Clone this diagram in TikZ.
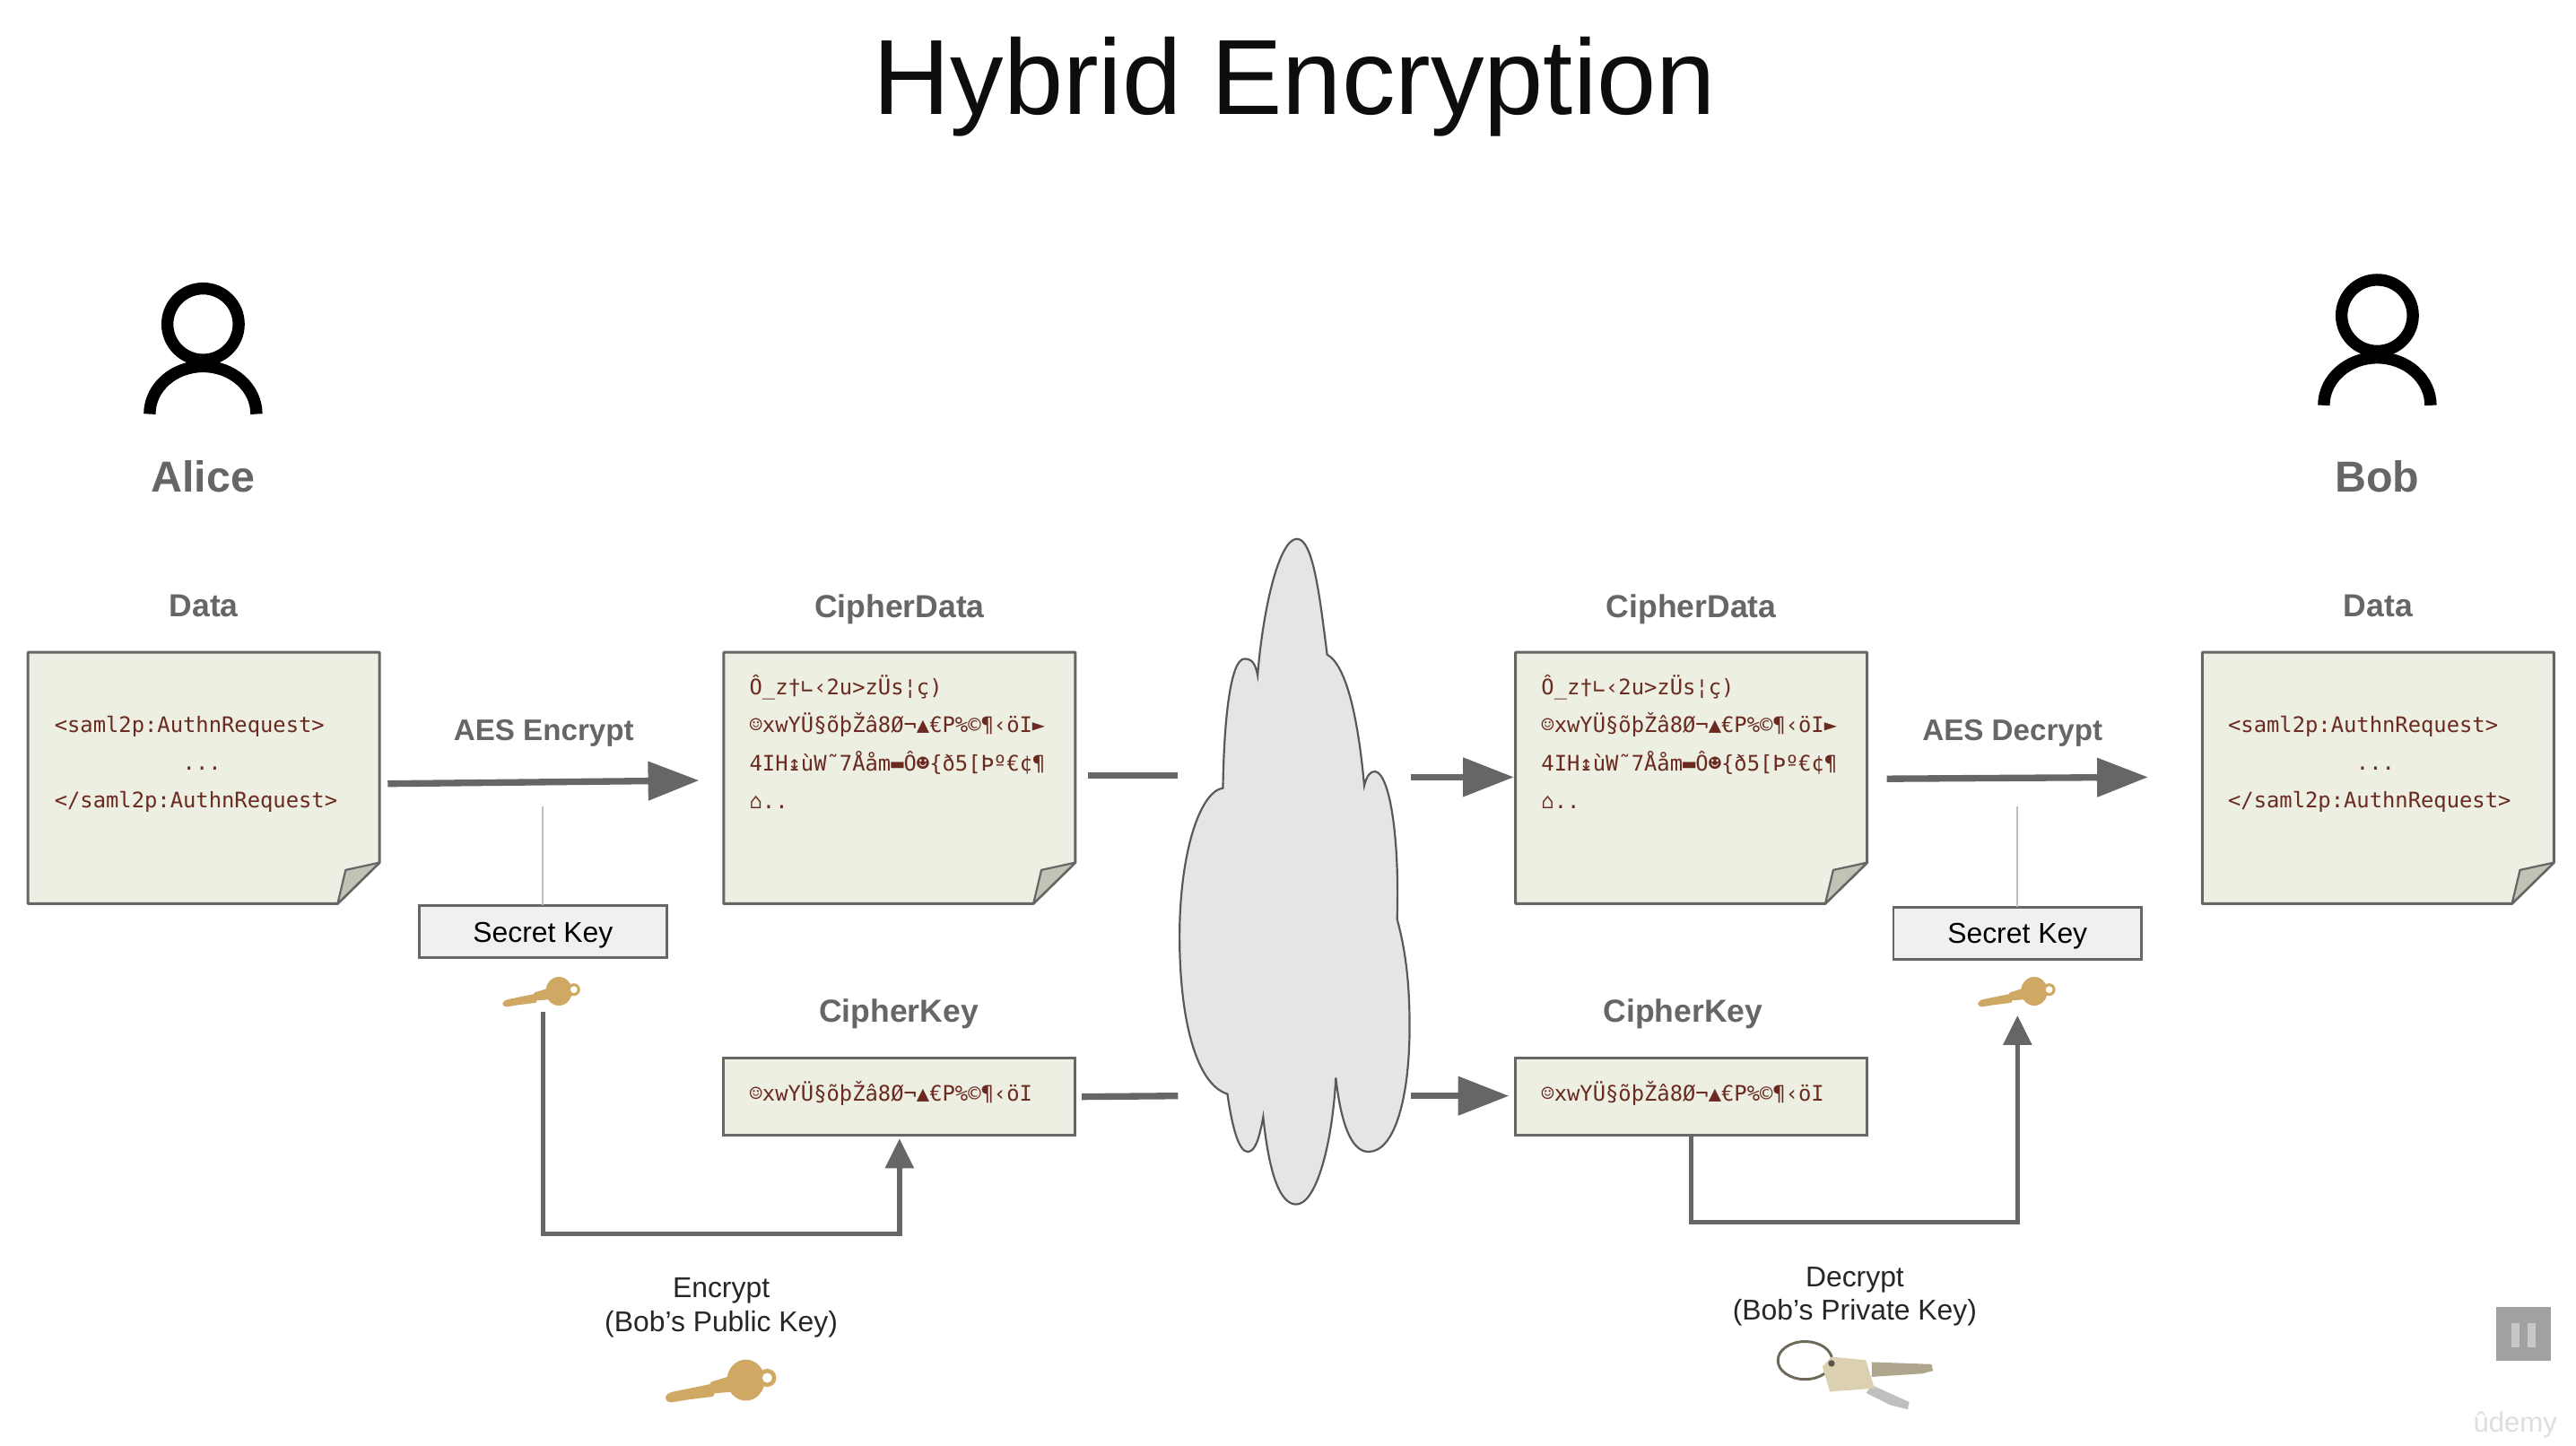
\documentclass[tikz,border=0pt]{standalone}
\usepackage{fontspec}
\setmainfont{Liberation Sans}
\newfontfamily\docfont{DejaVu Sans Mono}
\usetikzlibrary{arrows.meta}
\definecolor{doc-green}{HTML}{ECEFE2}
\definecolor{doc-fold}{HTML}{BFC4B4}
\definecolor{doc-text}{HTML}{6B2A20}
\definecolor{edge-grey}{HTML}{666666}
\definecolor{key-gold}{HTML}{CFA963}
\definecolor{key-beige}{HTML}{DBD0B0}
\tikzset{
  doc-page/.style={minimum width=214pt, minimum height=153pt, inner sep=0pt, outer sep=0pt},
  doc-edge/.style={draw=edge-grey, line width=1.6pt, fill=doc-green, line join=round},
  doc-note/.style={anchor=west, align=left, inner sep=0pt, text=doc-text, font=\docfont\fontsize{13}{23}\selectfont},
  cipher-key/.style={draw=edge-grey, line width=1.6pt, fill=doc-green, minimum width=214pt, minimum height=47pt, inner sep=0pt, outer sep=0pt},
  secret-box/.style={draw=edge-grey, line width=1.6pt, fill=black!6, minimum width=151pt, minimum height=32pt, inner sep=0pt, outer sep=0pt},
  secret-text/.style={font=\fontsize{17.4}{20}\selectfont},
  grey-head/.style={text=edge-grey, font=\bfseries\fontsize{19.4}{22}\selectfont},
  aes-head/.style={text=edge-grey, font=\bfseries\fontsize{18.1}{22}\selectfont},
  person-name/.style={text=edge-grey, font=\bfseries\fontsize{26.4}{30}\selectfont},
  key-note/.style={align=center, text=black!85, font=\fontsize{17.4}{20.5}\selectfont},
  main-arrow/.style={draw=edge-grey, line width=4pt, -{Triangle[length=31pt,width=23pt]}},
  stub-line/.style={draw=edge-grey, line width=4pt},
  key-arrow/.style={draw=edge-grey, line width=3pt, -{Triangle[length=18pt,width=17pt]}},
  hair-line/.style={draw=black!25, line width=1pt},
  gold-key/.pic={
    \fill[key-gold] (-33,9.5) .. controls (-32,7) and (-30,6.5) .. (-28,6) -- (-6,1.5) -- (-5,0) -- (8,-4) -- (9,6) -- (-3,7) -- (-4,9) -- (-20,11) -- (-29,12.5) .. controls (-32,12.5) and (-33,11) .. (-33,9.5) -- cycle;
    \fill[key-gold] (29,-2.4) circle[radius=5.5pt];
    \fill[key-gold] (16,-1) circle[x radius=11.5pt, y radius=12.5pt];
    \fill[white] (29,-2.4) circle[radius=3pt];
  },
}

\begin{document}
\begin{tikzpicture}[x=1pt, y=-1pt]
  \useasboundingbox (0,0) rectangle (1568,880);

  \node[text=black!95, font=\fontsize{65}{78}\selectfont] (title) at (788,53) {Hybrid Encryption};

  % people
  \foreach \who/\xpos/\ypos/\nm in {alice/123.6/197.3/Alice, bob/1447/192/Bob} {
    \begin{scope}[shift={(\xpos,\ypos)}]
      \draw[line width=7.3pt] (0,0) circle[radius=21.7pt];
      \draw[line width=7.3pt] (-32.5,54.7) .. controls (-32.5,38.7) and (-18,25.7) .. (0,25.7) .. controls (18,25.7) and (32.5,38.7) .. (32.5,54.7);
    \end{scope}
    \node[person-name] (\who) at (\xpos,290) {\nm};
  }

  % dog-eared pages
  \foreach \doc/\xpos/\ypos/\nm in {data-a/124/369/Data, cipher-a/547.5/371/CipherData, cipher-b/1029.5/371/CipherData, data-b/1447.5/369/Data} {
    \node[grey-head] (\doc-head) at (\xpos,\ypos) {\nm};
    \node[doc-page] (\doc) at (\xpos,473.5) {};
    \draw[doc-edge] (\doc.north west) -- (\doc.north east) -- ([yshift=25pt]\doc.south east)
      -- ([xshift=-25.5pt]\doc.south east) -- (\doc.south west) -- cycle;
    \draw[draw=edge-grey, line width=1.2pt, fill=doc-fold, line join=round] ([xshift=-25.5pt]\doc.south east)
      -- ([xshift=-20.6pt,yshift=20.5pt]\doc.south east) -- ([yshift=25pt]\doc.south east) -- cycle;
  }

  \node[doc-note] (plain-a) at (33,465) {<saml2p:AuthnRequest>\\\hspace*{78pt}...\\</saml2p:AuthnRequest>};
  \node[doc-note] (plain-b) at (1356,465) {<saml2p:AuthnRequest>\\\hspace*{78pt}...\\</saml2p:AuthnRequest>};
  \node[doc-note] (garble-a) at (456,451.5) {Ô\_z†∟‹2u>zÜs¦ç)\\☺xwYÜ§õþŽâ8Ø¬▲€P\%©¶‹öI►\\4IH↨ùW˜7Ååm▬Ô☻\{ð5[Þº€¢¶\\⌂..};
  \node[doc-note] (garble-b) at (938,451.5) {Ô\_z†∟‹2u>zÜs¦ç)\\☺xwYÜ§õþŽâ8Ø¬▲€P\%©¶‹öI►\\4IH↨ùW˜7Ååm▬Ô☻\{ð5[Þº€¢¶\\⌂..};

  % cipher keys
  \node[grey-head] (ckey-a-head) at (547,617) {CipherKey};
  \node[grey-head] (ckey-b-head) at (1024.5,617) {CipherKey};
  \node[cipher-key] (ckey-a) at (547.5,667.5) {};
  \node[cipher-key] (ckey-b) at (1029.5,667.5) {};
  \node[doc-note] (ckey-a-text) at (456,665.5) {☺xwYÜ§õþŽâ8Ø¬▲€P\%©¶‹öI};
  \node[doc-note] (ckey-b-text) at (938,665.5) {☺xwYÜ§õþŽâ8Ø¬▲€P\%©¶‹öI};

  % cloud
  \draw[draw=black!65, line width=1.2pt, fill=black!10]
    (744.4,479.6) .. controls (745,438) and (749,401) .. (757.5,401)
    .. controls (761.5,401) and (764,403) .. (765.5,411)
    .. controls (769,368) and (779,328) .. (789.4,328)
    .. controls (799,328) and (803,360) .. (807.8,398.4)
    .. controls (820,405) and (827,440) .. (830.4,478.2)
    .. controls (832,472) and (834,469.5) .. (837,469.5)
    .. controls (846,471) and (852,510) .. (850.4,559.4)
    .. controls (856,580) and (858,600) .. (858,625)
    .. controls (858,668) and (849,701) .. (833,701)
    .. controls (822,701) and (816,682) .. (813.1,656)
    .. controls (811,697) and (801,733) .. (789,733)
    .. controls (778,733) and (772,710) .. (768.9,679.8)
    .. controls (766.5,693) and (764,701) .. (759.5,701)
    .. controls (754,701) and (750,686) .. (747.1,665.8)
    .. controls (728,660) and (718,620) .. (718,570)
    .. controls (718,520) and (730,482) .. (744.4,479.6) -- cycle;

  \coordinate (cloud-in-a) at (717,472);
  \coordinate (cloud-in-b) at (717,667);
  \coordinate (cloud-out-a) at (859,473);
  \coordinate (cloud-out-b) at (859,667);
  \draw[stub-line] ([xshift=8pt,yshift=1.5pt]cipher-a.east) -- (cloud-in-a);
  \draw[stub-line] ([xshift=4pt]ckey-a.east) -- (cloud-in-b);
  \draw[main-arrow] (cloud-out-a) -- ([xshift=-1pt,yshift=0.5pt]cipher-b.west);
  \draw[main-arrow] (cloud-out-b) -- ([xshift=-4pt,yshift=0.5pt]ckey-b.west);

  % aes steps
  \node[aes-head] (aes-enc) at (331,446.5) {AES Encrypt};
  \node[aes-head] (aes-dec) at (1225,446.5) {AES Decrypt};
  \draw[main-arrow] ([xshift=5pt,yshift=-3.5pt]data-a.east) -- ([xshift=-15pt,yshift=-1.5pt]cipher-a.west);
  \draw[main-arrow] ([xshift=12pt,yshift=-0.5pt]cipher-b.east) -- ([xshift=-33pt,yshift=0.5pt]data-b.west);
  \node[secret-box] (secret-a) at (330.5,567) {};
  \node[secret-box] (secret-b) at (1228,568) {};
  \node[secret-text] (secret-a-text) at (330.5,569) {Secret Key};
  \node[secret-text] (secret-b-text) at (1228,570) {Secret Key};
  \coordinate (aes-enc-foot) at (330.5,491);
  \coordinate (aes-dec-foot) at (1228,491);
  \draw[hair-line] (secret-a.north) -- (aes-enc-foot);
  \draw[hair-line] (secret-b.north) -- (aes-dec-foot);

  \pic[scale=0.7] at (329,604) {gold-key};
  \pic[scale=0.7] at (1227,604) {gold-key};
  \pic at (438,841) {gold-key};

  % key exchange
  \coordinate (foot-a) at (330.5,616);
  \coordinate (foot-b) at (1228,618);
  \coordinate (rail-a) at (547.5,751);
  \coordinate (rail-b) at (1228,744);
  \draw[key-arrow] (foot-a) |- (rail-a) -- ([yshift=-2pt]ckey-a.south);
  \draw[key-arrow] (ckey-b.south) |- (rail-b) -- (foot-b);
  \node[key-note] (encrypt) at (439,796) {Encrypt\\(Bob’s Public Key)};
  \node[key-note] (decrypt) at (1129,789) {Decrypt\\(Bob’s Private Key)};

  % key ring
  \draw[draw=black!50!key-beige, line width=1.6pt] (1098.7,828) circle[x radius=16.5pt, y radius=11.5pt];
  \fill[black!20!key-beige] (1139.3,829) -- (1175.7,830.3) -- (1176.6,834.3) -- (1170.3,836) -- (1139.3,838) -- cycle;
  \fill[black!25] (1139.3,843) -- (1162.1,853.3) -- (1161.2,857.8) -- (1150.2,855) -- (1136,847.8) -- cycle;
  \fill[key-beige] (1109.3,831.8) -- (1114.8,825.8) -- (1135.7,827.8) -- (1141,845) -- (1113.8,847) -- cycle;
  \fill[black!60!key-beige] (1114.8,829.8) circle[radius=2pt];

  % player overlay
  \node[fill=black!37, minimum size=33pt, inner sep=0pt] (pause) at (1536,811.7) {};
  \node[fill=black!22, minimum width=5pt, minimum height=15pt, inner sep=0pt] (pause-l) at (1531.3,812.7) {};
  \node[fill=black!22, minimum width=5pt, minimum height=15pt, inner sep=0pt] (pause-r) at (1540.8,812.7) {};
  \node[text=black!13, font=\fontsize{17}{20}\selectfont] (brand) at (1531,867) {ûdemy};
\end{tikzpicture}
\end{document}
